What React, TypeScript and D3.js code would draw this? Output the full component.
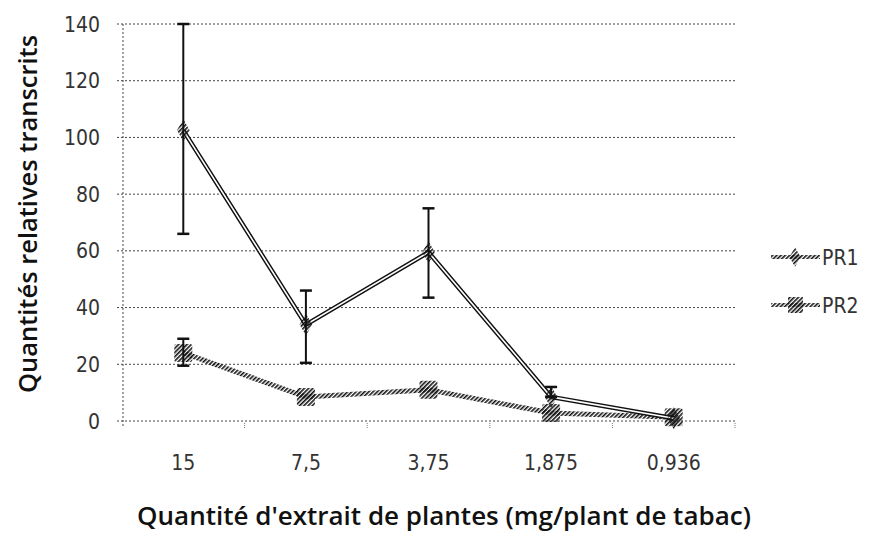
import { useEffect, useRef } from 'react';
import * as d3 from 'd3';

const categories = ['15', '7,5', '3,75', '1,875', '0,936'];
const pr1 = [102.5, 34, 59.5, 8.5, 1];
const pr1Low = [66, 20.5, 43.5, 8.5, 1];
const pr1High = [140, 46, 75, 12, 1];
const pr2 = [24, 8.5, 11, 2.8, 1.3];
const pr2Low = [19.5, 8.5, 11, 2.8, 1.3];
const pr2High = [29, 8.5, 11, 2.8, 1.3];
const yTicks = [0, 20, 40, 60, 80, 100, 120, 140];

const App = () => {
  const svgRef = useRef<SVGSVGElement>(null);

  useEffect(() => {
    const width = 869;
    const height = 536;
    const svg = d3.select(svgRef.current);
    svg.selectAll('*').remove();

    // hatch pattern, like the scanned markers
    const defs = svg.append('defs');
    defs.append('pattern')
      .attr('id', 'hatch')
      .attr('patternUnits', 'userSpaceOnUse')
      .attr('width', 3)
      .attr('height', 3)
      .attr('patternTransform', 'rotate(45)')
      .append('rect')
      .attr('width', 1.6)
      .attr('height', 3)
      .attr('fill', '#111');

    const x = d3.scaleBand().domain(categories).range([122, 735]);
    const y = d3.scaleLinear().domain([0, 140]).range([421, 24]);
    const cx = (c: string) => (x(c) as number) + x.bandwidth() / 2;

    const tickFont = 'DejaVu Sans Condensed, DejaVu Sans';
    const titleFont = 'Open Sans';

    // gridlines
    svg.append('g')
      .selectAll('line')
      .data(yTicks)
      .enter()
      .append('line')
      .attr('x1', 117)
      .attr('x2', 735)
      .attr('y1', d => y(d))
      .attr('y2', d => y(d))
      .attr('stroke', '#444')
      .attr('stroke-width', 1)
      .attr('stroke-dasharray', '2,2');

    svg.append('line')
      .attr('x1', 123).attr('x2', 123)
      .attr('y1', y(140)).attr('y2', y(0) + 5)
      .attr('stroke', '#444')
      .attr('stroke-dasharray', '2,2');

    // x ticks at the band edges
    svg.append('g')
      .selectAll('line')
      .data(categories)
      .enter()
      .append('line')
      .attr('x1', (d, i) => 122 + x.step() * (i + 1))
      .attr('x2', (d, i) => 122 + x.step() * (i + 1))
      .attr('y1', y(0) + 2)
      .attr('y2', y(0) + 7)
      .attr('stroke', '#777')
      .attr('stroke-dasharray', '1,1');

    // y tick labels
    svg.append('g')
      .selectAll('text')
      .data(yTicks)
      .enter()
      .append('text')
      .attr('x', 100)
      .attr('y', d => y(d) + 7.5)
      .attr('text-anchor', 'end')
      .style('font-family', tickFont)
      .style('font-size', '21px')
      .style('fill', '#333')
      .text(d => d);

    // x tick labels
    svg.append('g')
      .selectAll('text')
      .data(categories)
      .enter()
      .append('text')
      .attr('x', d => cx(d))
      .attr('y', 470)
      .attr('text-anchor', 'middle')
      .style('font-family', tickFont)
      .style('font-size', '21px')
      .style('fill', '#333')
      .text(d => d);

    // axis titles
    svg.append('text')
      .attr('transform', `translate(37, 214) rotate(-90)`)
      .attr('text-anchor', 'middle')
      .style('font-family', titleFont)
      .style('font-size', '25.5px')
      .style('font-weight', 600)
      .style('fill', '#111')
      .text('Quantités relatives transcrits');

    svg.append('text')
      .attr('x', 444)
      .attr('y', 525)
      .attr('text-anchor', 'middle')
      .style('font-family', titleFont)
      .style('font-size', '26px')
      .style('font-weight', 600)
      .style('fill', '#111')
      .text("Quantité d'extrait de plantes (mg/plant de tabac)");

    const line = d3.line<number>()
      .x((d, i) => cx(categories[i]))
      .y(d => y(d));

    // error bars
    const errors = (low: number[], high: number[]) => {
      const g = svg.append('g');
      categories.forEach((c, i) => {
        if (high[i] - low[i] < 0.5) return;
        g.append('line')
          .attr('x1', cx(c)).attr('x2', cx(c))
          .attr('y1', y(low[i])).attr('y2', y(high[i]))
          .attr('stroke', '#111').attr('stroke-width', 2);
        [low[i], high[i]].forEach(v => {
          g.append('line')
            .attr('x1', cx(c) - 6).attr('x2', cx(c) + 6)
            .attr('y1', y(v)).attr('y2', y(v))
            .attr('stroke', '#111').attr('stroke-width', 2.5);
        });
      });
    };

    // PR2 line: hatched thick stroke
    svg.append('path')
      .attr('d', line(pr2))
      .attr('fill', 'none')
      .attr('stroke', 'url(#hatch)')
      .attr('stroke-width', 5);
    errors(pr2Low, pr2High);
    svg.append('g')
      .selectAll('rect')
      .data(pr2)
      .enter()
      .append('rect')
      .attr('x', (d, i) => cx(categories[i]) - 9)
      .attr('y', d => y(d) - 9)
      .attr('width', 18)
      .attr('height', 18)
      .attr('rx', 2)
      .attr('fill', 'url(#hatch)');

    // PR1 line: double outline stroke
    svg.append('path')
      .attr('d', line(pr1))
      .attr('fill', 'none')
      .attr('stroke', '#111')
      .attr('stroke-width', 4.5);
    svg.append('path')
      .attr('d', line(pr1))
      .attr('fill', 'none')
      .attr('stroke', '#fff')
      .attr('stroke-width', 1.6);
    errors(pr1Low, pr1High);
    svg.append('g')
      .selectAll('path')
      .data(pr1)
      .enter()
      .append('path')
      .attr('d', d3.symbol().type(d3.symbolDiamond).size(140)())
      .attr('transform', (d, i) => `translate(${cx(categories[i])},${y(d)})`)
      .attr('fill', 'url(#hatch)');

    // legend
    const legend = svg.append('g');
    const items = [
      { name: 'PR1', y: 257, kind: 'pr1' },
      { name: 'PR2', y: 305, kind: 'pr2' },
    ];
    items.forEach(it => {
      legend.append('line')
        .attr('x1', 771).attr('x2', 820).attr('y1', it.y).attr('y2', it.y)
        .attr('stroke', 'url(#hatch)').attr('stroke-width', 4);
      if (it.kind === 'pr1') {
        legend.append('path')
          .attr('d', d3.symbol().type(d3.symbolDiamond).size(110)())
          .attr('transform', `translate(795,${it.y})`)
          .attr('fill', 'url(#hatch)');
      } else {
        legend.append('rect')
          .attr('x', 788).attr('y', it.y - 8).attr('width', 15).attr('height', 16)
          .attr('fill', 'url(#hatch)');
      }
      legend.append('text')
        .attr('x', 822)
        .attr('y', it.y + 7.5)
        .style('font-family', tickFont)
        .style('font-size', '21px')
        .style('fill', '#333')
        .text(it.name);
    });

    svg.attr('width', width).attr('height', height);
  }, []);

  return (
    <svg
      ref={svgRef}
      width={869}
      height={536}
      style={{ position: 'absolute', left: 0, top: 0, background: '#fff' }}
    ></svg>
  );
};

export default App;
